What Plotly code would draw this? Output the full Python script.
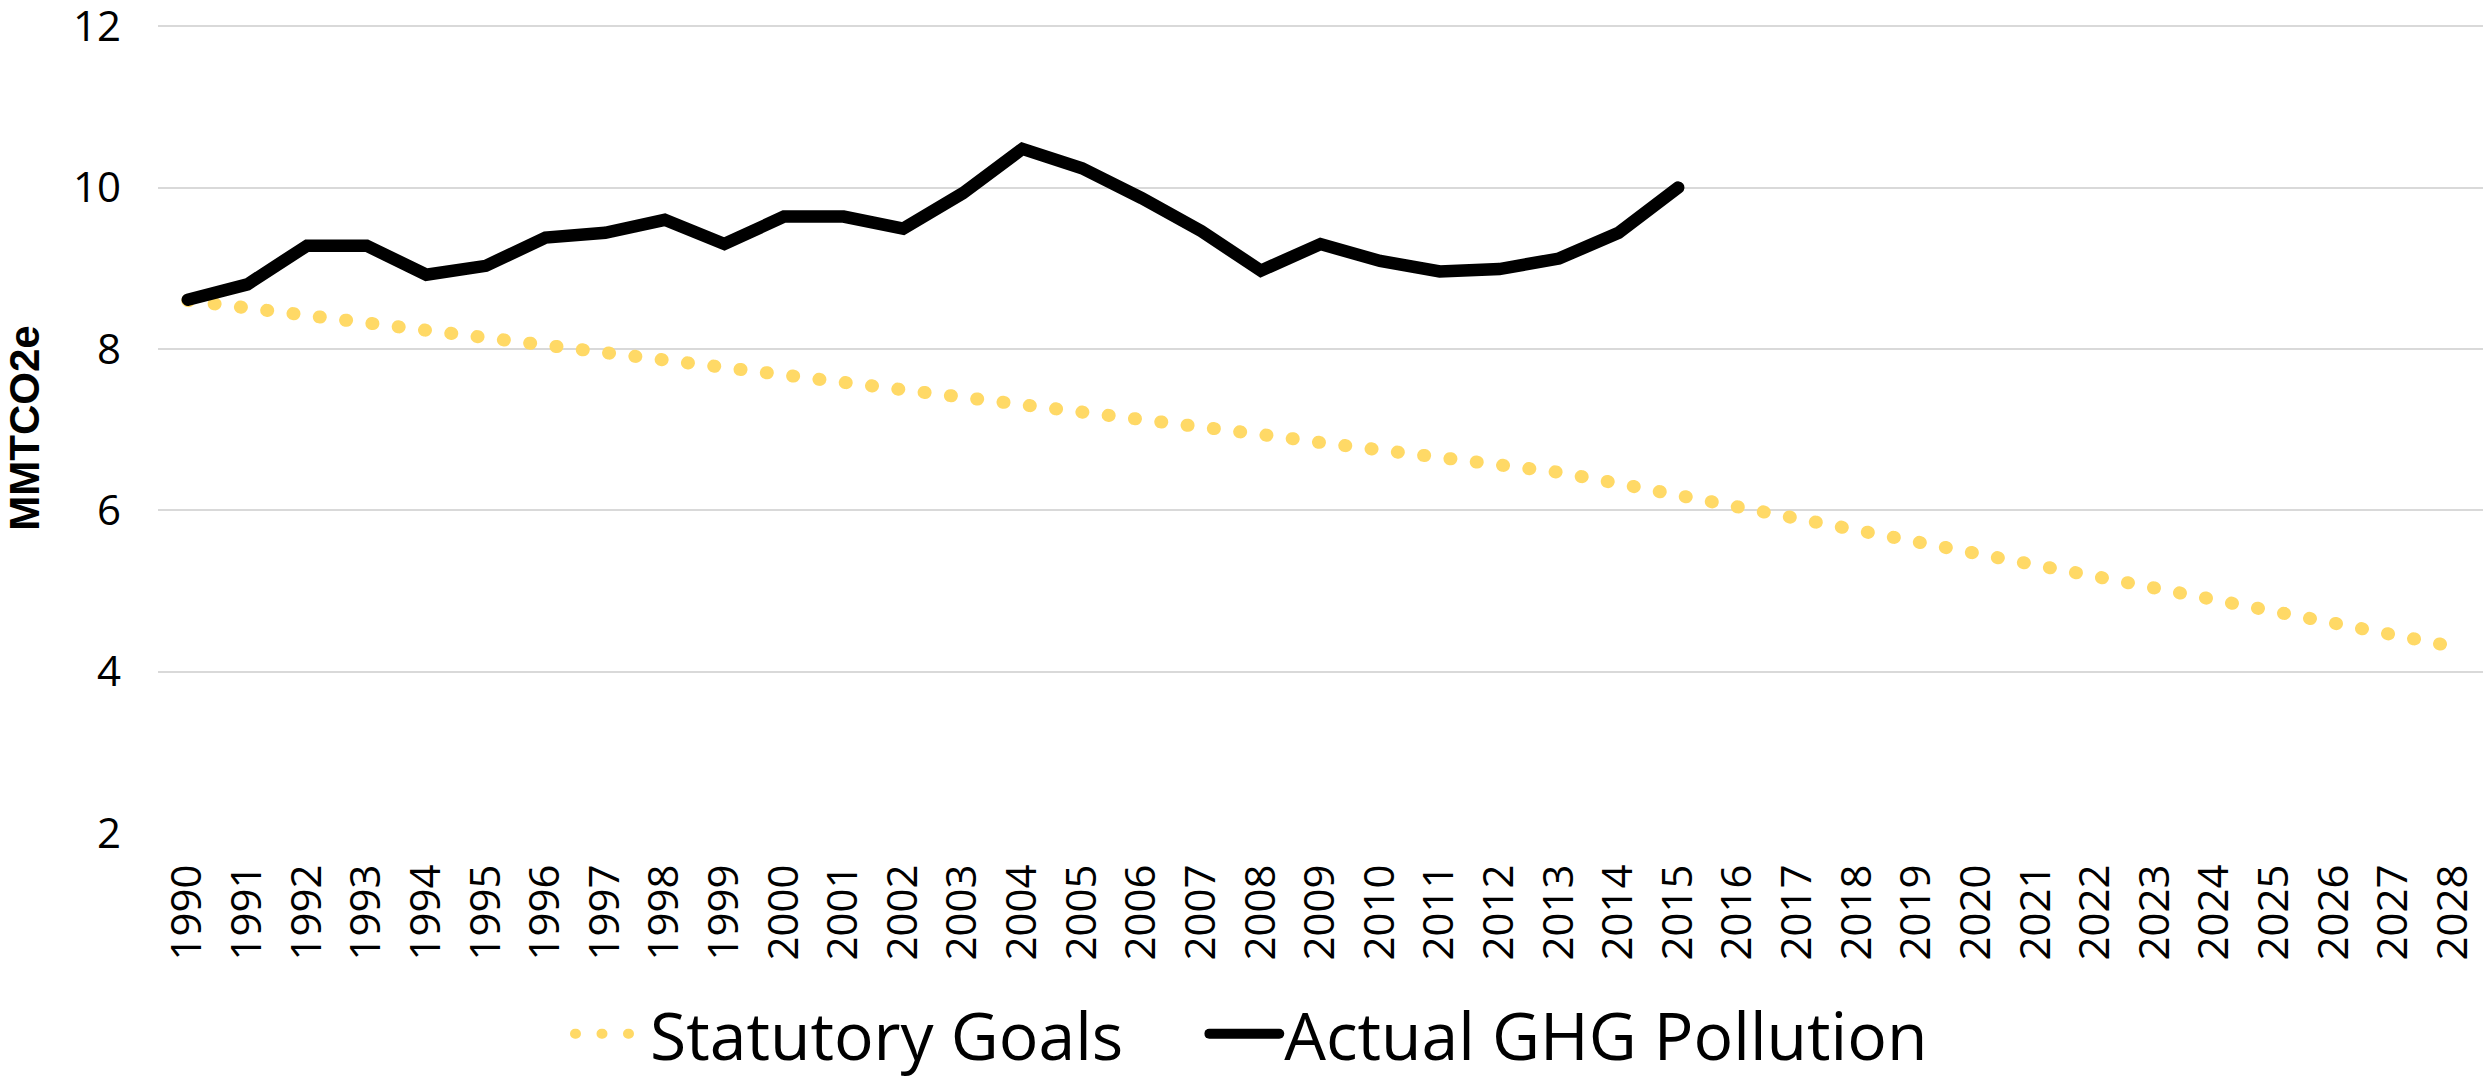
import plotly.graph_objects as go

years = [str(y) for y in range(1990, 2029)]

statutory_goals = [8.60, 8.51, 8.42, 8.32, 8.23, 8.14, 8.05, 7.95, 7.86, 7.77,
                   7.68, 7.58, 7.49, 7.40, 7.31, 7.21, 7.12, 7.03, 6.94, 6.84,
                   6.75, 6.66, 6.57, 6.47, 6.33, 6.18, 6.04, 5.89, 5.75, 5.61,
                   5.46, 5.32, 5.18, 5.03, 4.89, 4.74, 4.60, 4.46, 4.31]

actual_years = [str(y) for y in range(1990, 2016)]
actual_ghg = [8.61, 8.80, 9.28, 9.28, 8.92, 9.03, 9.38, 9.44, 9.60, 9.30,
              9.64, 9.64, 9.49, 9.93, 10.48, 10.24, 9.87, 9.46, 8.97, 9.30,
              9.09, 8.96, 8.99, 9.12, 9.44, 10.00]

y_ticks = [2, 4, 6, 8, 10, 12]

TICK_FONT = "Open Sans, Lato, Liberation Sans, sans-serif"

fig = go.Figure()
fig.add_trace(go.Scatter(
    x=years, y=statutory_goals, mode="lines", name="Statutory Goals",
    line=dict(color="#FFD966", width=13, dash="1px,25.5px"),
    legend="legend",
))
fig.add_trace(go.Scatter(
    x=actual_years, y=actual_ghg, mode="lines", name="Actual GHG Pollution",
    line=dict(color="#000000", width=12.5),
    legend="legend2",
))

legend_common = dict(
    orientation="h", xref="paper", xanchor="left",
    y=-0.248, yanchor="middle",
    font=dict(family=TICK_FONT, size=66, color="black"),
    itemwidth=70, bgcolor="rgba(0,0,0,0)",
)

fig.update_layout(
    width=2491, height=1076,
    margin=dict(l=158, r=8, t=23, b=243, autoexpand=False),
    paper_bgcolor="white", plot_bgcolor="white",
    showlegend=True,
    legend=dict(x=0.1772, **legend_common),
    legend2=dict(x=0.450, **legend_common),
    xaxis=dict(
        type="category", range=[-0.5, len(years) - 0.5], tickangle=-90,
        tickfont=dict(family=TICK_FONT, size=42, color="black"),
        showgrid=False, showline=False, ticks="", zeroline=False,
        ticklabelstandoff=22, ticklabeloverflow="allow",
    ),
    yaxis=dict(
        range=[1.999, 12.04], tickvals=y_ticks,
        tickfont=dict(family=TICK_FONT, size=42, color="black"),
        showgrid=True, gridcolor="#D9D9D9", gridwidth=2,
        showline=False, ticks="", zeroline=False,
        ticklabelstandoff=36, ticklabeloverflow="allow",
        title=dict(text="MMTCO2e", standoff=20,
                   font=dict(family="Liberation Sans, Arial, sans-serif", size=42, color="black", weight="bold")),
    ),
)

post = """
var s = document.createElement('style');
s.innerHTML = 'html, body { margin: 0 !important; padding: 0 !important; overflow: hidden; } path.js-line { stroke-linecap: round; }';
document.head.appendChild(s);
"""

fig.write_html("out.html", post_script=post, config={"displayModeBar": False})
